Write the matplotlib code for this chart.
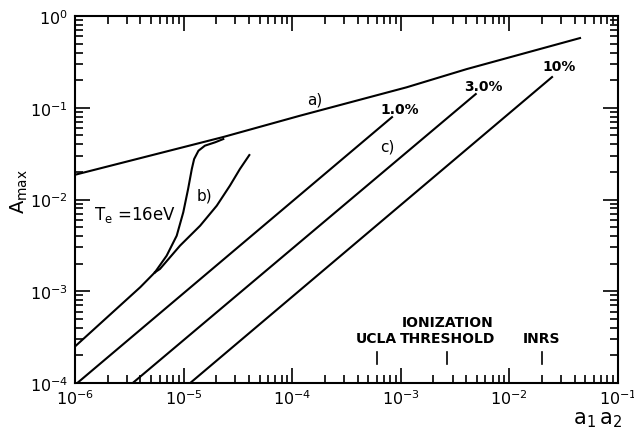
import matplotlib
matplotlib.use("Agg")
import matplotlib.pyplot as plt
from matplotlib.ticker import LogLocator, NullFormatter

# ---- data ----
a_x = [1e-6, 2.32e-5, 1.18e-4, 1.13e-3, 4.05e-3, 4.47e-2]
a_y = [0.0186, 0.048, 0.0819, 0.167, 0.264, 0.575]

b_common_x = [1e-6, 4.0e-6, 5.45e-6]
b_common_y = [2.5e-4, 1.11e-3, 1.61e-3]

b_steep_x = [5.45e-6, 6.98e-6, 8.64e-6, 9.93e-6, 1.10e-5, 1.19e-5, 1.25e-5,
             1.37e-5, 1.57e-5, 1.95e-5, 2.32e-5]
b_steep_y = [1.61e-3, 2.44e-3, 4.03e-3, 7.25e-3, 0.0130, 0.0215, 0.0276,
             0.0340, 0.0386, 0.0420, 0.0456]

b_slow_x = [5.45e-6, 6.06e-6, 9.27e-6, 1.42e-5, 2.02e-5, 2.67e-5, 3.30e-5, 4.03e-5]
b_slow_y = [1.61e-3, 1.75e-3, 3.14e-3, 5.18e-3, 8.56e-3, 0.01415, 0.0215, 0.0305]

c_labels = ["1.0%", "3.0%", "10%"]
c_x_start = [1.05e-6, 3.4e-6, 1.15e-5]
c_y_start = [1e-4, 1e-4, 1e-4]
c_x_end = [8.3e-4, 4.9e-3, 2.47e-2]
c_y_end = [0.079, 0.141, 0.216]
c_label_x = [9.8e-4, 5.7e-3, 2.86e-2]
c_label_y = [0.097, 0.171, 0.287]

marker_names = ["UCLA", "IONIZATION\nTHRESHOLD", "INRS"]
marker_x = [6.0e-4, 2.68e-3, 1.98e-2]

# ---- figure ----
fig = plt.figure(figsize=(6.34, 4.39), dpi=100)
ax = fig.add_axes([75 / 634, 1 - 384 / 439, 543 / 634, 367 / 439])

lw = 1.5
ax.plot(a_x, a_y, color="black", lw=lw)
ax.plot(b_common_x, b_common_y, color="black", lw=lw)
ax.plot(b_steep_x, b_steep_y, color="black", lw=lw)
ax.plot(b_slow_x, b_slow_y, color="black", lw=lw)
for xs, ys, xe, ye in zip(c_x_start, c_y_start, c_x_end, c_y_end):
    ax.plot([xs, xe], [ys, ye], color="black", lw=lw)

ax.set_xscale("log")
ax.set_yscale("log")
ax.set_xlim(1e-6, 1e-1)
ax.set_ylim(1e-4, 1e0)

# text labels
ax.text(1.62e-4, 0.124, "a)", fontsize=11, ha="center", va="center")
ax.text(1.57e-5, 0.0112, "b)", fontsize=11, ha="center", va="center")
ax.text(7.5e-4, 0.0383, "c)", fontsize=11, ha="center", va="center")
ax.text(1.5e-6, 6.95e-3, r"T$_\mathrm{e}$ =16eV", fontsize=12, ha="left", va="center")
for lab, lx, ly in zip(c_labels, c_label_x, c_label_y):
    ax.text(lx, ly, lab, fontsize=10, ha="center", va="center", fontweight="bold")

for name, mx in zip(marker_names, marker_x):
    ax.plot([mx, mx], [1.61e-4, 2.18e-4], color="black", lw=1.2)
    ax.text(mx, 2.6e-4, name, fontsize=10, fontweight="bold", ha="center",
            va="bottom", linespacing=1.15)

# ticks
for axis in (ax.xaxis, ax.yaxis):
    axis.set_major_locator(LogLocator(base=10, numticks=12))
    axis.set_minor_locator(LogLocator(base=10, subs=range(2, 10), numticks=12))
    axis.set_minor_formatter(NullFormatter())
ax.tick_params(which="both", direction="in", top=True, right=True, width=1.2)
ax.tick_params(which="major", length=11, labelsize=11.5)
ax.tick_params(axis="x", which="major", pad=4)
ax.tick_params(axis="y", which="major", pad=5)
ax.tick_params(which="minor", length=6)
for s in ax.spines.values():
    s.set_linewidth(1.5)

fig.text(19 / 634, 1 - 192 / 439, r"A$_{\rm max}$", rotation=90, fontsize=14,
         ha="center", va="center")
fig.text(598 / 634, 1 - 420 / 439, r"$\mathrm{a_1\,a_2}$", fontsize=15,
         ha="center", va="center")

fig.savefig("out.png", dpi=100)
